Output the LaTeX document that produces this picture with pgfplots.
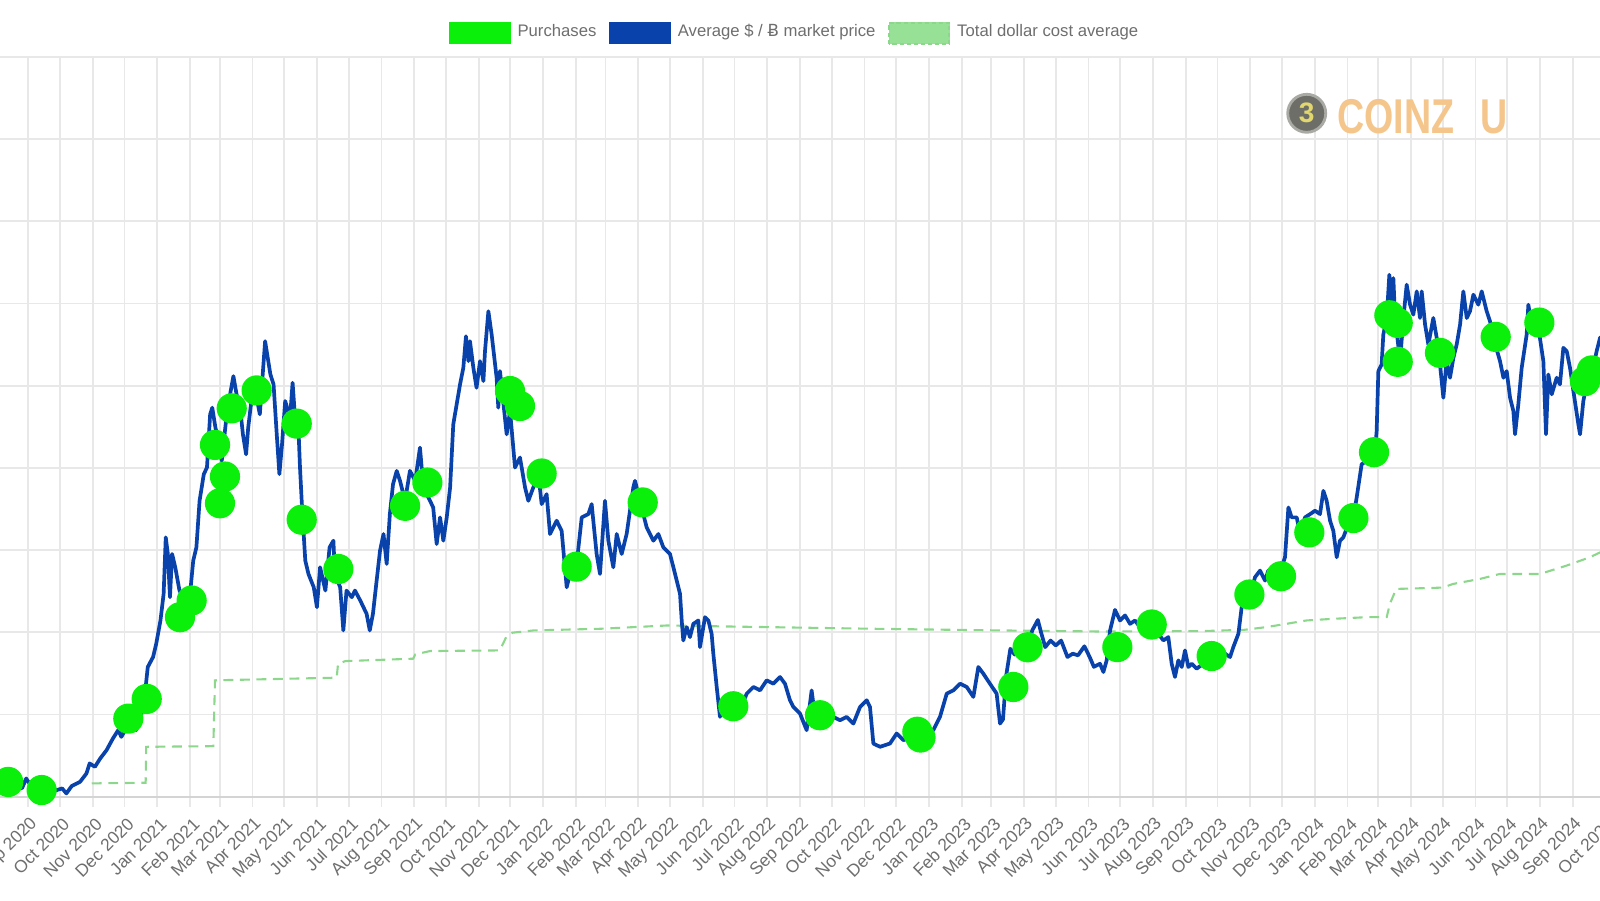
\documentclass[border=0pt]{standalone}
\usepackage{fontspec}
\setmainfont{Liberation Sans}
\newfontfamily\dejavu{DejaVu Sans}
\usepackage{pgfplots}
\pgfplotsset{compat=1.18}
\definecolor{purch}{RGB}{10,240,10}
\definecolor{priceblue}{RGB}{8,66,170}
\definecolor{dca}{RGB}{140,215,140}
\definecolor{dcafill}{RGB}{150,225,150}
\definecolor{gridgray}{RGB}{232,232,232}
\definecolor{axisgray}{RGB}{212,212,212}
\definecolor{labgray}{RGB}{110,110,110}
\definecolor{logotext}{RGB}{244,198,140}
\definecolor{coingray}{RGB}{110,110,105}
\definecolor{coinrim}{RGB}{170,170,165}
\definecolor{coinyellow}{RGB}{225,215,110}
\begin{document}
\begin{tikzpicture}
\useasboundingbox (0,0) rectangle (16,9);
\clip (0,0) rectangle (16,9);
\begin{axis}[
  at={(-0.351cm,1.033cm)}, anchor=south west, scale only axis,
  width=16.702cm, height=7.398cm,
  xmin=-60, xmax=1520, ymin=10000, ymax=100000,
  xtick={0,30,61,91,122,153,181,212,242,273,303,334,365,395,426,456,487,518,546,577,607,638,668,699,730,760,791,821,852,883,911,942,972,1003,1033,1064,1095,1125,1156,1186,1217,1248,1277,1308,1338,1369,1399,1430,1461,1491},
  xticklabels={Sep 2020,Oct 2020,Nov 2020,Dec 2020,Jan 2021,Feb 2021,Mar 2021,Apr 2021,May 2021,Jun 2021,Jul 2021,Aug 2021,Sep 2021,Oct 2021,Nov 2021,Dec 2021,Jan 2022,Feb 2022,Mar 2022,Apr 2022,May 2022,Jun 2022,Jul 2022,Aug 2022,Sep 2022,Oct 2022,Nov 2022,Dec 2022,Jan 2023,Feb 2023,Mar 2023,Apr 2023,May 2023,Jun 2023,Jul 2023,Aug 2023,Sep 2023,Oct 2023,Nov 2023,Dec 2023,Jan 2024,Feb 2024,Mar 2024,Apr 2024,May 2024,Jun 2024,Jul 2024,Aug 2024,Sep 2024,Oct 2024},
  ytick={10000,20000,30000,40000,50000,60000,70000,80000,90000,100000},
  yticklabels={},
  scaled y ticks=false,
  grid=major,
  major grid style={draw=gridgray, line width=0.5pt},
  axis x line*=bottom, axis y line*=left,
  x axis line style={draw=axisgray, line width=0.6pt, -},
  y axis line style={draw=none},
  tick align=outside, major tick length=0.1cm,
  xtick style={draw=gridgray, line width=0.5pt},
  ytick style={draw=none},
  xticklabel style={xshift=0.067cm, yshift=-0.14cm, rotate=45, anchor=east, inner sep=0pt,
    font=\fontsize{4.95}{6}\selectfont, text=labgray},
  legend style={draw=none, fill=none, at={(0.4962,1.032)}, anchor=center,
    legend columns=-1, font=\fontsize{4.75}{6}\selectfont, text=labgray,
    nodes={inner sep=0pt},
    /tikz/every odd column/.append style={column sep=0.07cm},
    /tikz/every even column/.append style={column sep=0.13cm}},
  legend cell align=left,
]
\addlegendimage{legend image code/.code={\fill[purch] (0cm,-0.105cm) rectangle (0.6cm,0.105cm);}}
\addlegendentry{Purchases}
\addlegendimage{legend image code/.code={\fill[priceblue] (0cm,-0.105cm) rectangle (0.6cm,0.105cm);}}
\addlegendentry{Average \$ / {\dejavu Ƀ} market price}
\addlegendimage{legend image code/.code={\fill[dcafill] (0cm,-0.105cm) rectangle (0.6cm,0.105cm);\draw[dca, line width=0.5pt, dash pattern=on 1.2pt off 0.8pt] (0cm,-0.105cm) rectangle (0.6cm,0.105cm);}}
\addlegendentry{Total dollar cost average}

% Total dollar cost average
\addplot[dca, line width=0.6pt, dash pattern=on 2.8pt off 1.9pt, forget plot] coordinates {
(60,11620) (111,11700) (111.5,16070) (175,16150) (176.6,24160) (291.7,24480) (293,26180) (300,26500)
(364,26790) (366,27310) (380,27720) (446,27800) (449,28600) (452,29400) (458,29950) (478,30230)
(541,30430) (604,30830) (700,30630) (800,30430) (919,30230) (1013,30100) (1110,30150) (1150,30300)
(1171,30630) (1190,31030) (1209,31440) (1234,31640) (1266,31840) (1285,31840) (1288,33460) (1294,35280)
(1329,35400) (1338,35450) (1348,35890) (1373,36490) (1392,37100) (1430,37100) (1455,38110) (1477,39120)
(1487,39730) (1495,40000)
};

% Average market price
\addplot[priceblue, line width=1.05pt, line join=round, forget plot] coordinates {
(-27,11820) (-14,11420) (-6,11010) (-2,12220) (2,11420) (8,11010) (17,10810) (25,10730) (32,11010) (36,10400)
(41,11290) (49,11820) (55,12830) (58,14050) (63,13640) (68,14650) (74,15660) (80,17080) (85,18090) (88,17280)
(95,18900) (99,19510) (102,18090) (109,20920) (113,25780) (118,26990) (121,28610) (125,31440) (128,34670) (130,41550)
(132,39530) (134,34270) (136,39530) (139,37910) (143,35080) (148,33870) (153,34670) (156,38720) (159,40340) (162,46000)
(166,49240) (169,50050) (172,56520) (174,57330) (177,54900) (180,53280) (183,50860) (188,56920) (194,61170) (197,58940)
(200,57730) (203,54090) (206,51660) (208,54900) (211,58140) (216,58540) (219,56520) (224,65420) (225.5,64200) (229,61370)
(232,60160) (235,54090) (237.5,49240) (240,52880) (243,58140) (247.6,56110) (250,60360) (252.3,56110) (255.5,54900) (257,50050)
(258.6,46000) (262,38720) (265,37100) (270,35480) (273,33060) (276,37910) (281,35080) (285,40340) (288.6,41150) (290,37100)
(295,35480) (298,30230) (301,35080) (306,34270) (309,35080) (314,33870) (320,32250) (323,30230) (326,32250) (329.5,36290)
(332.7,39930) (336,41960) (339,38320) (342,44380) (345,48020) (348.5,49640) (351.6,48430) (356.4,46000) (361,49640) (366,48430)
(370.5,52470) (373.7,47620) (380,46000) (383,45190) (386.3,40740) (389.5,43980) (392.6,41150) (395.8,43980) (399,47620) (402,55300)
(408.4,60160) (411.5,62180) (414,66020) (416.3,62990) (417.8,65420) (421,62180) (424,59750) (427.3,62990) (430.5,60560) (432,64200)
(435.2,69060) (438.3,66230) (443,60970) (444.6,57330) (446.2,61780) (452.5,54090) (455.7,56920) (460.4,50050) (465.1,51260) (469.9,47620)
(473,46000) (477.7,47620) (482.5,49240) (485.6,45600) (490.3,46810) (493.5,41960) (499.8,43580) (504.5,42360) (509.3,35480) (512.4,37100)
(518.7,38320) (523.5,43980) (529.8,44380) (532.9,45600) (537.6,39530) (540.8,37100) (545.5,46000) (548.7,41150) (553.4,37910) (556.6,41960)
(561.3,39530) (566,41960) (572.3,47620) (573.9,48430) (578.6,46000) (584.9,42770) (591.3,41150) (596,41960) (600.7,40340) (607,39530)
(610.2,37910) (616.5,34670) (618.1,31430) (619.6,29010) (622.8,30630) (625.9,29420) (629.1,31030) (633.8,31440) (635.4,28200) (640.1,31840)
(643.3,31440) (646.4,29820) (648,27390) (651.2,23350) (654.3,19710) (657.5,21730) (663.8,20110) (673.2,20520) (679.6,22540) (685.9,23350)
(692.2,22940) (698.5,24160) (704.8,23750) (711.1,24560) (715.8,23750) (720.5,21730) (723.7,20920) (730,20110) (736.3,18090) (741,22940)
(744.2,19710) (756.8,20110) (761.5,19710) (767.8,19300) (774.2,19710) (780.5,18900) (786.8,20920) (793.1,21730) (796.2,20920) (799.4,16470)
(805.7,16070) (815.1,16470) (821.4,17690) (827.8,16880) (837.2,17280) (846.7,17690) (856.1,18090) (862.4,19710) (868.8,22540) (875.1,22940)
(881.4,23750) (887.7,23350) (894,22140) (898.7,25780) (903.4,24970) (909.7,23750) (916,22540) (919.2,18900) (922,19400) (925,24700)
(929,28000) (933,27300) (938,27800) (944,28200) (950,30300) (955,31500) (958,30000) (962,28200) (967,29000) (972,28400)
(977,29000) (983,27000) (988,27400) (993,27200) (999,28300) (1004,27000) (1008,25800) (1013.8,26180) (1017,25170) (1020.1,26590)
(1023.3,30230) (1028,32730) (1032.7,31440) (1037.5,32050) (1042.2,31030) (1046.9,31440) (1051.6,30630) (1058,31030) (1064.3,31240) (1069,29820)
(1073.7,29010) (1078.4,29420) (1081.6,26180) (1084.7,24570) (1087.9,26590) (1091.1,25780) (1094.2,27800) (1097.4,25780) (1100.5,26180) (1105.2,25580)
(1111.6,26180) (1119.4,27190) (1127.3,28200) (1132.1,27400) (1136.8,26990) (1139.9,28200) (1144.7,29820) (1147.8,33060) (1152.5,33860) (1157.3,35080)
(1160.4,36700) (1165.2,37510) (1169.9,36290) (1173,37510) (1177.8,36700) (1184.1,37310) (1188.8,39130) (1192,45190) (1195.1,43980) (1199.9,43980)
(1203,41960) (1207.7,43980) (1212.5,44380) (1217.2,44790) (1221.9,44380) (1225.1,47210) (1228.2,46000) (1231.4,43580) (1234.5,42360) (1237.7,39130)
(1240.8,41150) (1244,41560) (1248.7,43170) (1253.5,43980) (1256.6,46400) (1261.3,50450) (1266.1,50860) (1270.8,51260) (1273,50450) (1275.5,54490)
(1277.1,61770) (1280.2,62580) (1281.8,66220) (1285,68240) (1287.5,73500) (1288.8,70270) (1291.3,73100) (1292.9,68240) (1294.4,66630) (1297.6,62990)
(1300.8,68240) (1303.9,72290) (1307.1,69860) (1310.2,68650) (1313.4,71480) (1316.5,68240) (1318.1,71480) (1321.3,67440) (1324.4,65010) (1329.1,68240)
(1332.3,65820) (1335.4,62590) (1338.6,58540) (1341.7,62990) (1344.9,60970) (1348.1,63400) (1351.2,65010) (1354.4,67440) (1357.5,71480) (1360.7,68240)
(1363.8,69060) (1367,71080) (1371.7,69860) (1374.9,71480) (1379.6,69060) (1382.7,67850) (1385.9,65820) (1392.2,62990) (1395.4,60970) (1398.5,61770)
(1401.7,58540) (1404.8,56920) (1406.4,54090) (1409.5,57730) (1412.7,62180) (1417.4,66220) (1419,69860) (1423.7,66220) (1428.5,67040) (1433.2,62990)
(1435.7,54090) (1437.9,61370) (1441.1,58950) (1445.8,60970) (1448.9,60160) (1452.1,64610) (1455.3,64200) (1458.4,62180) (1461.6,59350) (1466.3,55300)
(1467.9,54090) (1471,58140) (1474.2,60160) (1478.9,61370) (1483.6,64200) (1486.8,65820) (1495,66500)
};

% Purchases
\addplot[only marks, mark=*, mark size=4.1pt, mark options={fill=purch, draw=purch}, forget plot] coordinates {
(-19,11800) (12.6,10810) (94.6,19500) (112,21900) (143.5,31840) (154.5,33870) (176.6,52800) (181.3,45700) (186,48950) (192.4,57250)
(216,59430) (253.9,55390) (258.6,43700) (293.3,37700) (356.4,45390) (377.5,48220) (455.7,59350) (465.1,57530) (485.6,49320) (518.7,37990)
(581.2,45800) (666.9,21000) (748.9,19910) (841,17900) (844,17200) (931.8,23350) (945.3,28180) (1030.2,28200) (1062.7,30950) (1119.4,27110)
(1155.1,34600) (1185,36820) (1211.8,42160) (1253.5,43900) (1273,51910) (1287.5,68570) (1295.4,67640) (1295.4,62910) (1335.4,64000) (1388.1,65940)
(1429.4,67680) (1472.6,60560) (1479,61860)
};
\end{axis}
% watermark logo
\filldraw[fill=coingray, draw=coinrim, line width=0.8pt] (13.067,7.867) circle (0.19cm);
\node[text=coinyellow, inner sep=0pt, font=\bfseries\fontsize{8}{8}\selectfont] at (13.067,7.867) {3};
\node[anchor=base west, inner sep=0pt, text=logotext, font=\bfseries\fontsize{13.9}{14}\selectfont] at (13.367,7.667) {\scalebox{0.77}[1]{COINZ}};
\node[anchor=base west, inner sep=0pt, text=logotext, font=\bfseries\fontsize{13.9}{14}\selectfont] at (14.80,7.667) {\scalebox{0.77}[1]{U}};
\end{tikzpicture}
\end{document}
